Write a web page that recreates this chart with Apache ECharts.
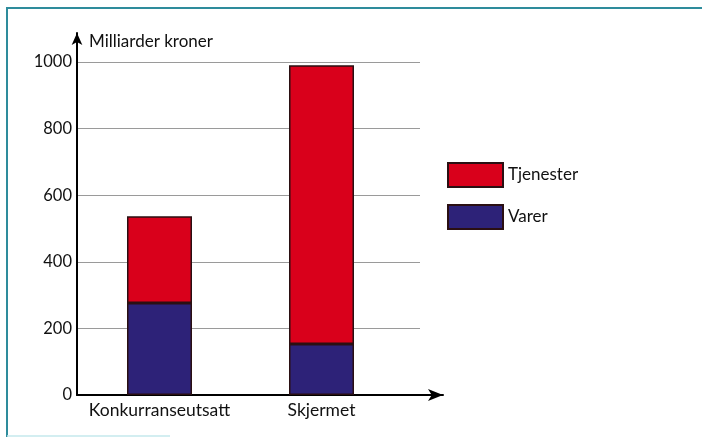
<!DOCTYPE html>
<html>
<head>
<meta charset="utf-8">
<script src="https://cdn.jsdelivr.net/npm/echarts@6/dist/echarts.min.js"></script>
<style>
html,body{margin:0;padding:0;background:#fff;}
#chart{width:702px;height:437px;}
</style>
</head>
<body>
<div id="chart"></div>
<script>
const categories = ['Konkurranseutsatt', 'Skjermet'];
const varer = [276, 153];
const tjenester = [261, 837];
const yTicks = [0, 200, 400, 600, 800, 1000];
const axisTitle = 'Milliarder kroner';

const FONT = 'Lato';
const chart = echarts.init(document.getElementById('chart'), null, {renderer: 'canvas'});
const barBorder = {borderColor: '#2a0f12', borderWidth: 1.5};

chart.setOption({
  backgroundColor: '#ffffff',
  animation: false,
  title: {
    text: axisTitle, left: 89, top: 33, padding: 0,
    textStyle: {fontFamily: FONT, fontSize: 17, fontWeight: 'normal', color: '#111'}
  },
  legend: {
    orient: 'vertical', left: 447, top: 162, padding: 0,
    itemWidth: 55, itemHeight: 24, itemGap: 16,
    data: ['Tjenester', 'Varer'],
    textStyle: {fontFamily: FONT, fontSize: 17, color: '#111'},
    icon: 'rect'
  },
  grid: [
    {left: 77, width: 343, top: 62, bottom: 42},
    {left: 78.5, width: 324, top: 62, bottom: 42},
    {left: 77, width: 366, top: 33, bottom: 42}
  ],
  xAxis: [
    {gridIndex: 0, type: 'value', show: false, min: 0, max: 1},
    {gridIndex: 1, type: 'category', data: categories, boundaryGap: true,
     axisLine: {show: false}, axisTick: {show: false},
     axisLabel: {fontFamily: FONT, fontSize: 17.5, color: '#111', margin: 6, interval: 0}},
    {gridIndex: 2, type: 'value', min: 0, max: 1,
     axisLine: {show: true, lineStyle: {color: '#000', width: 2}, symbol: ['none', 'arrow'], symbolSize: [9, 15]},
     axisTick: {show: false}, axisLabel: {show: false}, splitLine: {show: false}}
  ],
  yAxis: [
    {gridIndex: 0, type: 'value', min: 0, max: 1000, interval: 200,
     axisLine: {show: false}, axisTick: {show: false},
     axisLabel: {fontFamily: FONT, fontSize: 16.5, color: '#111', margin: 5,
                 customValues: yTicks, formatter: v => String(v)},
     splitLine: {show: true, lineStyle: {color: '#9a9a9a', width: 1}}},
    {gridIndex: 1, type: 'value', min: 0, max: 1000, show: false, splitLine: {show: false}},
    {gridIndex: 2, type: 'value', min: 0, max: 1,
     axisLine: {show: true, lineStyle: {color: '#000', width: 2}, symbol: ['none', 'arrow'], symbolSize: [8, 12]},
     axisTick: {show: false}, axisLabel: {show: false}, splitLine: {show: false}}
  ],
  series: [
    {name: 'Varer', type: 'bar', stack: 'total', xAxisIndex: 1, yAxisIndex: 1,
     barWidth: 65, data: varer, itemStyle: Object.assign({color: '#2d2278'}, barBorder)},
    {name: 'Tjenester', type: 'bar', stack: 'total', xAxisIndex: 1, yAxisIndex: 1,
     barWidth: 65, data: tjenester, itemStyle: Object.assign({color: '#d9001b'}, barBorder)}
  ],
  graphic: [
    {type: 'line', shape: {x1: 6, y1: 8, x2: 702, y2: 8}, style: {stroke: '#2e8c9c', lineWidth: 2}, silent: true},
    {type: 'line', shape: {x1: 7, y1: 8, x2: 7, y2: 437}, style: {stroke: '#2e8c9c', lineWidth: 2}, silent: true},
    {type: 'line', shape: {x1: 7, y1: 436, x2: 170, y2: 436}, style: {stroke: '#c4e8ec', lineWidth: 1.5}, silent: true}
  ]
});
</script>
</body>
</html>
